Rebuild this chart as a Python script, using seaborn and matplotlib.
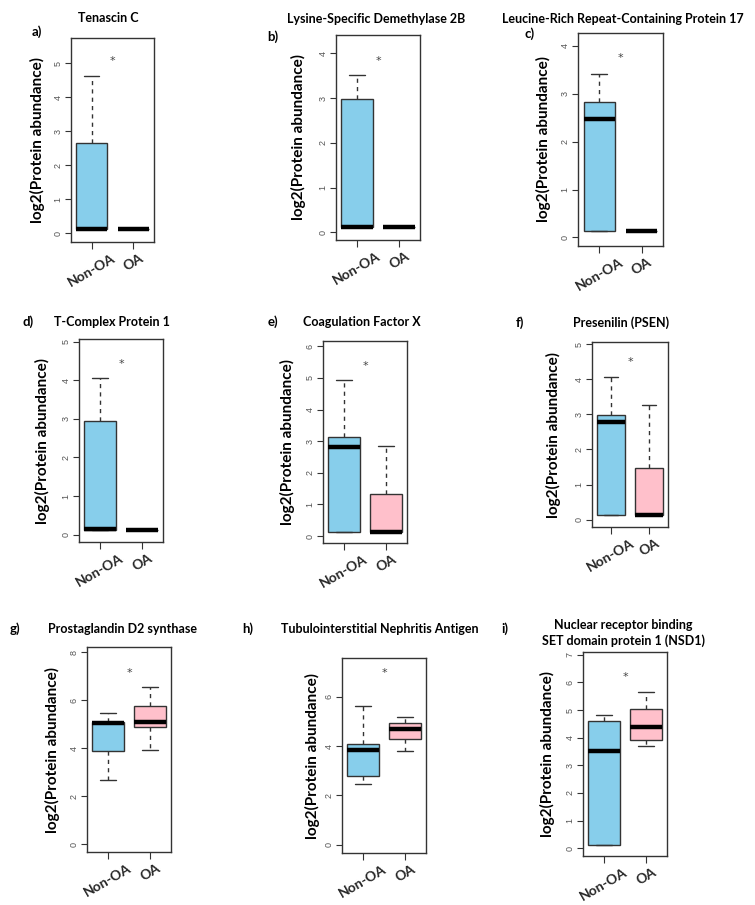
import numpy as np
import pandas as pd
import matplotlib
matplotlib.use("Agg")
import matplotlib.pyplot as plt
import seaborn as sns

# === Box statistics (log2 protein abundance) ===
titles = ["Tenascin C", "Lysine-Specific Demethylase 2B",
          "Leucine-Rich Repeat-Containing Protein 17", "T-Complex Protein 1",
          "Coagulation Factor X", "Presenilin (PSEN)", "Prostaglandin D2 synthase",
          "Tubulointerstitial Nephritis Antigen",
          "Nuclear receptor binding\nSET domain protein 1 (NSD1)"]
letters = ["a)", "b)", "c)", "d)", "e)", "f)", "g)", "h)", "i)"]
groups = ["Non-OA", "OA"]

# Non-OA: min, Q1, median, Q3, max
non_lo = [0.13, 0.13, 0.14, 0.13, 0.14, 0.13, 2.65, 2.47, 0.13]
non_q1 = [0.13, 0.13, 0.14, 0.13, 0.14, 0.13, 3.88, 2.79, 0.13]
non_med = [0.14, 0.13, 2.47, 0.14, 2.81, 2.78, 5.03, 3.84, 3.52]
non_q3 = [2.65, 2.98, 2.83, 2.95, 3.14, 2.98, 5.10, 4.07, 4.62]
non_hi = [4.61, 3.52, 3.42, 4.05, 4.93, 4.07, 5.44, 5.63, 4.83]
# OA: min, Q1, median, Q3, max
oa_lo = [0.13, 0.13, 0.13, 0.13, 0.12, 0.12, 3.92, 3.79, 3.69]
oa_q1 = [0.13, 0.13, 0.13, 0.13, 0.12, 0.12, 4.88, 4.30, 3.92]
oa_med = [0.13, 0.13, 0.13, 0.13, 0.14, 0.13, 5.08, 4.71, 4.38]
oa_q3 = [0.13, 0.13, 0.13, 0.13, 1.33, 1.48, 5.76, 4.93, 5.02]
oa_hi = [0.13, 0.13, 0.13, 0.13, 2.84, 3.26, 6.56, 5.17, 5.67]

star_y = [5.05, 3.83, 3.75, 4.42, 5.37, 4.48, 7.13, 6.97, 6.19]
y_max_tick = [5, 4, 4, 5, 6, 5, 8, 6, 7]
y_step = [1, 1, 1, 1, 1, 1, 2, 2, 1]
y_lims = [(-0.25, 5.74), (-0.17, 4.41), (-0.18, 4.27), (-0.19, 5.07), (-0.22, 6.17),
          (-0.21, 5.06), (-0.33, 8.21), (-0.34, 7.58), (-0.28, 7.10)]

box_colors = {"Non-OA": "#87CEEB", "OA": "#FFC0CB"}

# layout in pixels: axes (left, right, top, bottom), title, letter, ylabel x
W, H = 755, 905
axes_px = [(71, 154, 38, 242), (336, 420, 35, 240), (578, 663, 33, 246),
           (79, 163, 339, 542), (323, 407, 341, 543), (592, 668, 342, 527),
           (87, 171, 647, 852), (342, 426, 658, 853), (583, 667, 652, 856)]
title_px = [(108, 18), (376, 19), (623, 19), (112, 322), (362, 322), (621, 323),
            (123, 629), (380, 629), (623, 633)]
letter_px = [(37, 32), (273, 37), (530, 34), (28, 322), (273, 322), (520, 323),
             (15, 629), (248, 629), (505, 629)]
ylab_x = [37, 298, 543, 42, 287, 553, 52, 312, 547]

sns.set_style("white")
plt.rcParams["font.family"] = ["Lato", "DejaVu Sans"]

fig = plt.figure(figsize=(W / 100, H / 100), dpi=100)
bold = dict(fontweight="bold", color="black")

for i in range(9):
    L, R, T, B = axes_px[i]
    ax = fig.add_axes([L / W, 1 - B / H, (R - L) / W, (B - T) / H])
    vals = [non_lo[i], non_q1[i], non_med[i], non_q3[i], non_hi[i],
            oa_lo[i], oa_q1[i], oa_med[i], oa_q3[i], oa_hi[i]]
    df = pd.DataFrame({"group": [groups[0]] * 5 + [groups[1]] * 5, "value": vals})
    sns.boxplot(data=df, x="group", y="value", hue="group", order=groups,
                palette=box_colors, saturation=1, width=0.74, whis=(0, 100),
                linecolor="#333333", linewidth=1, legend=False, ax=ax,
                medianprops=dict(color="black", linewidth=3.2, solid_capstyle="butt"),
                whiskerprops=dict(linestyle=(0, (3, 3))))
    ax.set_xlim(-0.5, 1.5)
    ax.set_ylim(*y_lims[i])
    ax.set_yticks(np.arange(0, y_max_tick[i] + 0.1, y_step[i]))
    ax.set_xlabel("")
    ax.set_ylabel("")
    for s in ax.spines.values():
        s.set_color("#333333")
        s.set_linewidth(1)
    ax.tick_params(axis="y", left=True, length=4, width=0.8, color="#333333",
                   labelsize=6.5, labelcolor="#555555", pad=2)
    ax.tick_params(axis="x", bottom=True, length=5, width=0.8, color="#333333", pad=2)
    for lab in ax.get_yticklabels():
        lab.set_rotation(90)
        lab.set_va("center")
        lab.set_family(["Liberation Sans", "DejaVu Sans"])
    ax.set_xticks([0, 1])
    ax.set_xticklabels(groups, rotation=30, ha="center", fontweight="bold", fontsize=10)
    ax.text(0.5, star_y[i], "*", ha="center", va="center", fontsize=8, color="#444444",
            family="DejaVu Sans")

    tx, ty = title_px[i]
    fig.text(tx / W, 1 - ty / H, titles[i], ha="center", va="center", linespacing=1.3,
             fontsize=9, **bold)
    lx, ly = letter_px[i]
    fig.text(lx / W, 1 - ly / H, letters[i], ha="center", va="center", fontsize=9.5, **bold)
    fig.text(ylab_x[i] / W, 1 - (T + B) / 2 / H, "log2(Protein abundance)", rotation=90,
             ha="center", va="center", fontsize=11, **bold)

fig.savefig("out.png", dpi=100, facecolor="white")
